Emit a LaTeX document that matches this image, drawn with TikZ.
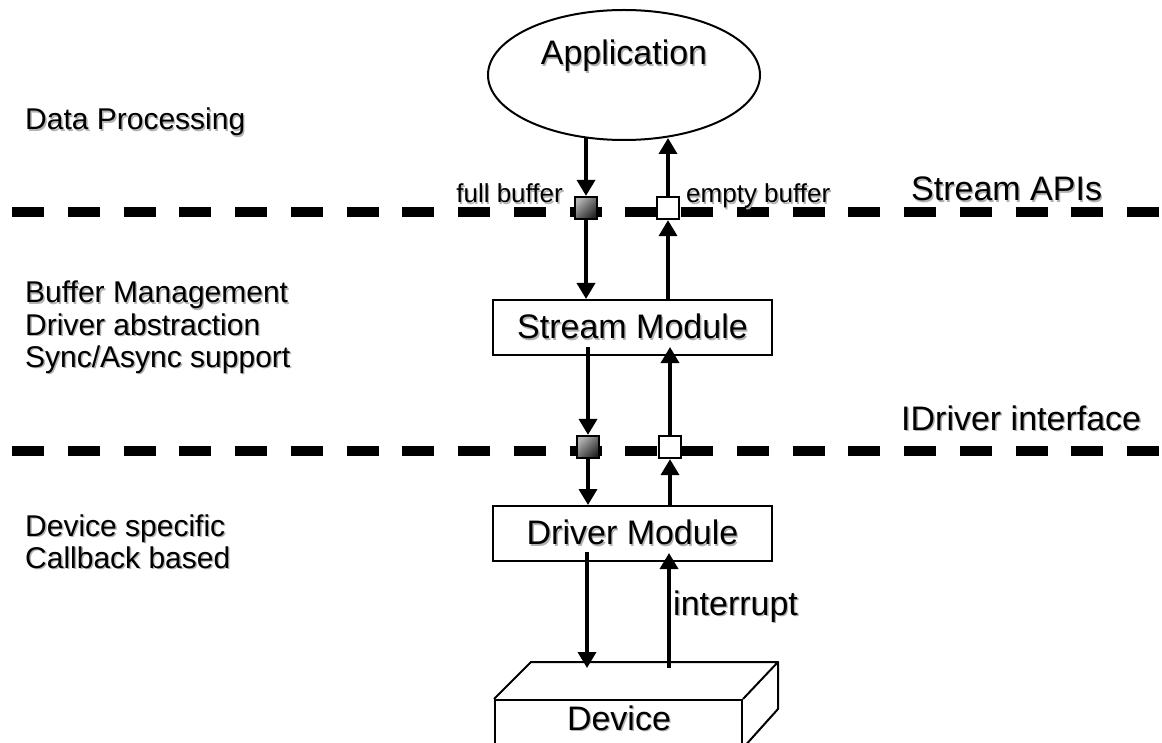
\documentclass[tikz,border=0pt]{standalone}
\usepackage{fontspec}
\setmainfont{Liberation Sans}
\usetikzlibrary{arrows.meta,shapes.geometric,calc}
\newcommand\shd[1]{\rlap{\kern1.4pt\raisebox{-1.4pt}{\textcolor{black!30}{#1}}}#1}
\begin{document}
\begin{tikzpicture}[x=1pt,y=-1pt,
  big/.style={font=\fontsize{34}{40}\selectfont, inner sep=0pt},
  side/.style={font=\fontsize{30}{32}\selectfont, inner sep=0pt, anchor=base west},
  small/.style={font=\fontsize{26}{30}\selectfont, inner sep=0pt},
  layer/.style={line width=10pt, dash pattern=on 32pt off 23.75pt},
  module/.style={draw, line width=2pt, minimum width=279pt, minimum height=55pt, inner sep=0pt, font=\fontsize{34}{40}\selectfont},
  fullbuf/.style={draw, line width=2.2pt, minimum size=22pt, inner sep=0pt, shading=axis, top color=black!30, bottom color=black!85, shading angle=45},
  emptybuf/.style={draw, line width=2.2pt, minimum size=22pt, inner sep=0pt, fill=white},
  arr/.style={line width=3.5pt, -{Triangle[length=16pt,width=18pt]}},
  edge3d/.style={line width=2pt, line join=round}]
\useasboundingbox (0,0) rectangle (1162,743);

% layer separators
\coordinate (l1a) at (12,212); \coordinate (l1b) at (1180,212);
\coordinate (l2a) at (12,451); \coordinate (l2b) at (1180,451);
\draw[layer] (l1a) -- (l1b);
\draw[layer] (l2a) -- (l2b);

% side texts
\node[side] (dp) at (25,130) {\shd{Data Processing}};
\node[side] (bm) at (25,303) {\shd{Buffer Management}};
\node[side] (da) at (25,335) {\shd{Driver abstraction}};
\node[side] (sa) at (25,367) {\shd{Sync/Async support}};
\node[side] (ds) at (25,536) {\shd{Device specific}};
\node[side] (cb) at (25,568) {\shd{Callback based}};
\node[big, anchor=base west] (sapi) at (911,201) {\shd{Stream APIs}};
\node[big, anchor=base west] (idrv) at (901,430) {\shd{IDriver interface}};

% application
\node[ellipse, draw, line width=2pt, minimum width=272pt, minimum height=130pt, inner sep=0pt] (app) at (624,75) {};
\node[big, anchor=base] (apptext) at (624,65) {\shd{Application}};

% buffers
\node[fullbuf] (fs1) at (586,208) {};
\node[emptybuf] (es1) at (668,208) {};
\node[fullbuf] (fs2) at (588,447) {};
\node[emptybuf] (es2) at (670,447) {};
\node[small, anchor=base east] (fbl) at (563,203) {\shd{full buffer}};
\node[small, anchor=base west] (ebl) at (686,203) {\shd{empty buffer}};

% modules
\node[module] (sm) at (632.5,327.5) {\shd{Stream Module}};
\node[module] (dm) at (632.5,533.5) {\shd{Driver Module}};

% device
\node[draw, line width=2pt, minimum width=247pt, minimum height=47pt, inner sep=0pt, anchor=north west] (dev) at (494,699) {};
\draw[edge3d] (dev.north west) -- ++(37,-37) -- ++(247,0) coordinate (dbr) -- (dev.north east);
\draw[edge3d] (dbr) -- ++(0,47) -- (dev.south east);
\node[big, anchor=base] (devtext) at (619,730) {\shd{Device}};
\coordinate (dt1) at (587,668);
\coordinate (dt2) at (669,668);

% arrows
\draw[arr] ($(app.south -| fs1)+(0,-3)$) -- (fs1.north);
\draw[arr] (es1.north) -- ($(app.south -| es1)+(0,-3)$);
\draw[arr] (fs1.south) -- (fs1.south |- sm.north);
\draw[arr] (sm.north -| es1) -- (es1.south);
\draw[arr] ($(sm.south -| fs2)+(0,-9)$) -- (fs2.north);
\draw[arr] (es2.north) -- ($(sm.south -| es2)+(0,-9)$);
\draw[arr] (fs2.south) -- (fs2.south |- dm.north);
\draw[arr] (dm.north -| es2) -- (es2.south);
\draw[arr] ($(dm.south -| dt1)+(0,-10)$) -- (dt1);
\draw[arr] (dt2) -- ($(dm.south -| dt2)+(0,-9)$);
\node[big, anchor=base west] (irq) at (673,615) {\shd{interrupt}};
\end{tikzpicture}
\end{document}
